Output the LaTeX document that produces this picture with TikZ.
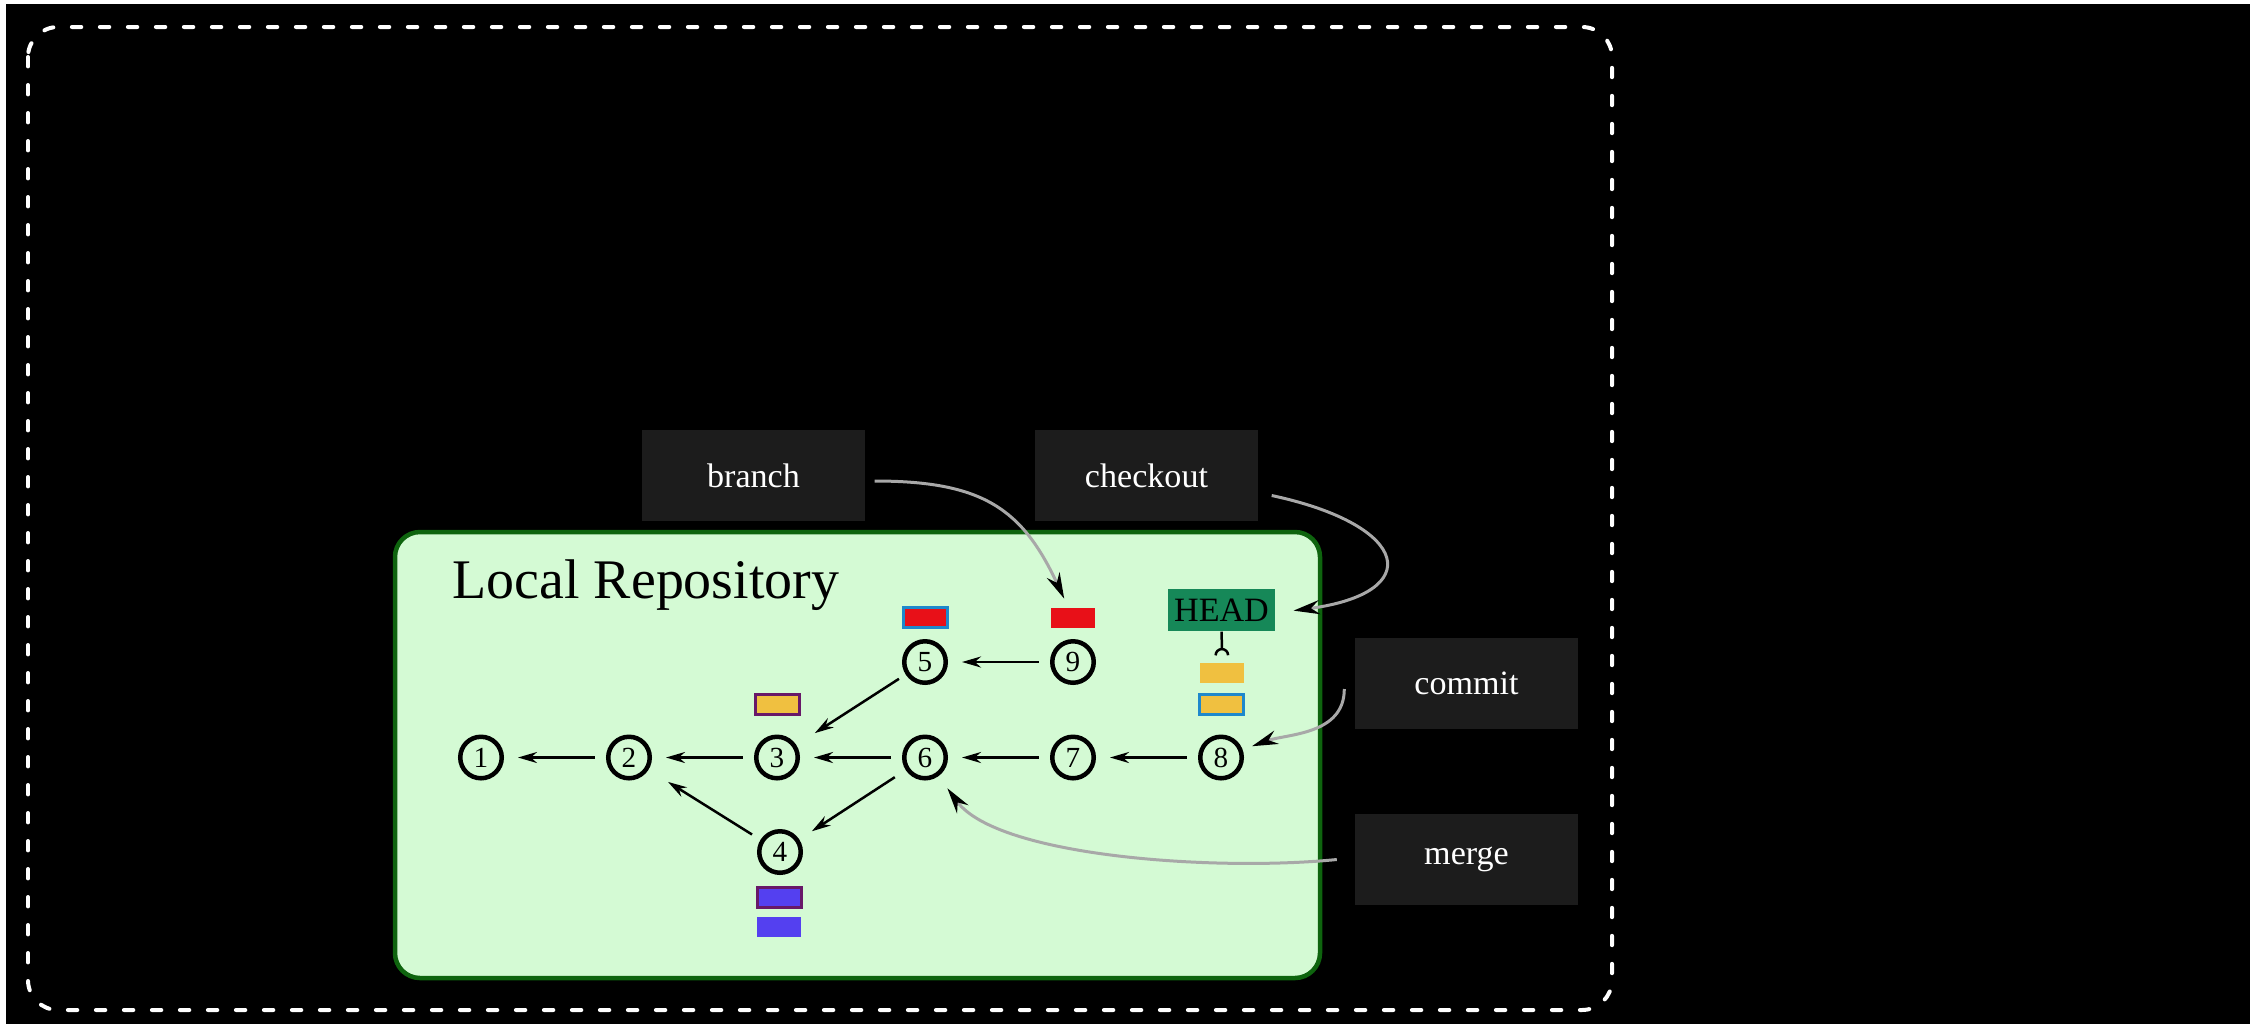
\documentclass[tikz,border=0pt]{standalone}
\usepackage{fontspec}
\setmainfont{Liberation Serif}
\usetikzlibrary{arrows.meta,positioning}

\definecolor{repofill}{RGB}{212,250,212}
\definecolor{repoline}{RGB}{14,100,14}
\definecolor{cmdfill}{RGB}{28,28,28}
\definecolor{headfill}{RGB}{22,136,88}
\definecolor{tagred}{RGB}{232,16,24}
\definecolor{tagyellow}{RGB}{240,192,64}
\definecolor{tagblue}{RGB}{84,64,240}
\definecolor{rimblue}{RGB}{30,136,204}
\definecolor{rimpurple}{RGB}{104,24,104}
\definecolor{cmdline}{RGB}{168,168,168}

\tikzset{
  cnode/.style={circle,draw,line width=0.045cm,minimum size=0.415cm,inner sep=0pt,
    font=\fontsize{8.3}{9}\selectfont},
  tag/.style={rectangle,minimum width=0.44cm,minimum height=0.2cm,inner sep=0pt},
  cmdbox/.style={rectangle,fill=cmdfill,text=white,minimum width=2.23cm,
    minimum height=0.91cm,font=\fontsize{9.7}{11}\selectfont},
  cmdarrow/.style={draw=cmdline,line width=0.03cm,
    -{Stealth[black,length=0.26cm,width=0.14cm]}},
  parent/.style={->,line width=0.025cm,shorten >=0.14cm,shorten <=0.115cm},
}

\begin{document}
\begin{tikzpicture}[>={Stealth[length=0.19cm,width=0.11cm]}]
  \pgfmathsetmacro {\dx}{1.48}    %commit spacing
  \pgfmathsetmacro {\xa}{4.81}    %first commit
  \pgfmathsetmacro {\ya}{-7.575}  %main line
  \pgfmathsetmacro {\yb}{-6.62}   %upper branch line
  \pgfmathsetmacro {\yc}{-8.52}   %lower branch line

  %Page and dashed frame
  \fill[white] (0,0) rectangle (22.6,-10.24);
  \fill[black] (0.06,-0.04) rectangle (22.5,-10.24);
  \draw[white,line width=0.04cm,line cap=round,dash pattern=on 0.094cm off 0.186cm,
    rounded corners=0.3cm] (0.28,-0.27) rectangle (16.12,-10.10);

  %Local repository
  \draw[repoline,fill=repofill,line width=0.045cm,rounded corners=0.25cm]
    (3.95,-5.32) rectangle (13.20,-9.78);
  \node[anchor=base west,inner sep=0pt,font=\fontsize{15.9}{18}\selectfont]
    (title) at (4.52,-5.986) {Local Repository};

  %Commits
  \node[cnode] (c1) at (\xa,\ya) {1};
  \node[cnode] (c2) at (\xa+\dx,\ya) {2};
  \node[cnode] (c3) at (\xa+2*\dx,\ya) {3};
  \node[cnode] (c4) at (\xa+2*\dx+0.03,\yc) {4};
  \node[cnode] (c5) at (\xa+3*\dx,\yb) {5};
  \node[cnode] (c6) at (\xa+3*\dx,\ya) {6};
  \node[cnode] (c7) at (\xa+4*\dx,\ya) {7};
  \node[cnode] (c8) at (\xa+5*\dx,\ya) {8};
  \node[cnode] (c9) at (\xa+4*\dx,\yb) {9};

  %Parent links
  \draw[parent] (c2) -- (c1);
  \draw[parent] (c3) -- (c2);
  \draw[parent] (c6) -- (c3);
  \draw[parent] (c7) -- (c6);
  \draw[parent] (c8) -- (c7);
  \draw[parent] (c9) -- (c5);
  \draw[parent,shorten >=0.22cm,shorten <=0.08cm] (c5) -- (c3);
  \draw[parent,shorten >=0.15cm,shorten <=0.13cm] (c6) -- (c4);
  \draw[parent,shorten >=0.23cm,shorten <=0.10cm] (c4) -- (c2);

  %Refs
  \node[tag,fill=tagred,draw=rimblue,line width=0.03cm] (t5) at (9.25,-6.175) {};
  \node[tag,fill=tagred] (t9) at (10.73,-6.175) {};
  \node[tag,fill=tagyellow,draw=rimpurple,line width=0.03cm] (t3) at (7.77,-7.04) {};
  \node[tag,fill=tagyellow] (t8a) at (12.22,-6.73) {};
  \node[tag,fill=tagyellow,draw=rimblue,line width=0.03cm] (t8b) at (12.215,-7.04) {};
  \node[tag,fill=tagblue,draw=rimpurple,line width=0.03cm] (t4a) at (7.795,-8.97) {};
  \node[tag,fill=tagblue] (t4b) at (7.79,-9.27) {};
  \node[fill=headfill,minimum width=1.07cm,minimum height=0.42cm,inner sep=0pt,
    font=\fontsize{9.7}{11}\selectfont] (head) at (12.215,-6.10) {HEAD};
  \draw[line width=0.025cm,-{Arc Barb[reversed,width=0.15cm,length=0.075cm]},
    shorten >=0.07cm] (head) -- (t8a);

  %Commands
  \node[cmdbox] (branch) at (7.535,-4.755) {branch};
  \node[cmdbox] (checkout) at (11.465,-4.755) {checkout};
  \node[cmdbox] (commit) at (14.665,-6.835) {commit};
  \node[cmdbox] (merge) at (14.665,-8.595) {merge};

  \draw[cmdarrow,shorten >=0.09cm] ([shift={(0.09,-0.055)}]branch.east)
    to[out=0,in=115,looseness=1.2] (t9);
  \draw[cmdarrow,shorten >=0.18cm] ([shift={(0.13,-0.2)}]checkout.east)
    .. controls +(1.4,-0.3) and +(1.5,0.2) .. ([yshift=-0.03cm]head.east);
  \draw[cmdarrow,shorten >=0.1cm] ([shift={(-0.1,-0.055)}]commit.west)
    to[out=-90,in=20] (c8);
  \draw[cmdarrow,shorten >=0.15cm] ([xshift=-0.175cm]merge.west)
    .. controls +(-1.2,-0.12) and +(0.59,-0.81) .. (c6.-54);
\end{tikzpicture}
\end{document}
